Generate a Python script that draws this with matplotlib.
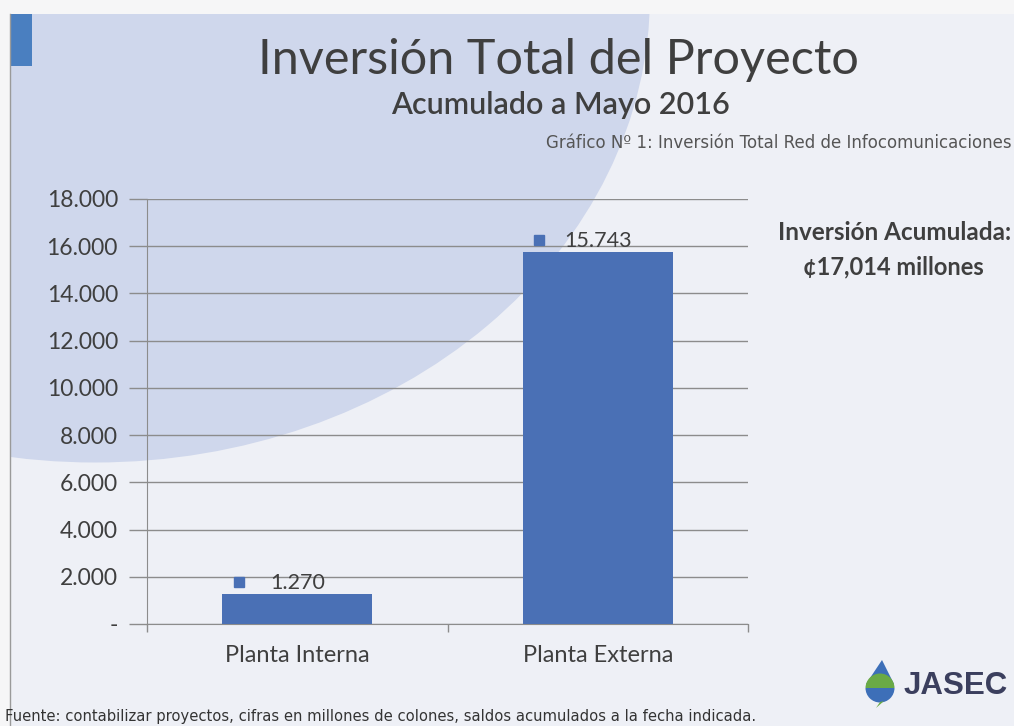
import numpy as np
import matplotlib.pyplot as plt
import matplotlib.transforms as mtransforms
from matplotlib.patches import Ellipse, Rectangle, Polygon, Wedge
from matplotlib.ticker import FixedLocator, FuncFormatter

# datos del grafico
categorias = ['Planta Interna', 'Planta Externa']
inversion = [1270, 15743]
y_ticks = [0, 2000, 4000, 6000, 8000, 10000, 12000, 14000, 16000, 18000]

titulo = 'Inversión Total del Proyecto'
subtitulo = 'Acumulado a Mayo 2016'
nota_grafico = 'Gráfico Nº 1: Inversión Total Red de Infocomunicaciones'
total_linea1 = 'Inversión Acumulada:'
total_linea2 = '¢17,014 millones'
fuente = 'Fuente: contabilizar proyectos, cifras en millones de colones, saldos acumulados a la fecha indicada.'

BLUE = '#4a70b5'
TXT = '#3f3f3f'
GRID = '#8c8c8c'

plt.rcParams['font.family'] = ['Lato', 'DejaVu Sans']

fig = plt.figure(figsize=(10.14, 7.26), dpi=100)
fig.patch.set_facecolor('#f6f6f7')

# fondo de la diapositiva (coordenadas en pixeles)
bg = fig.add_axes([0, 0, 1, 1], zorder=-1)
bg.set_xlim(0, 1014)
bg.set_ylim(726, 0)
bg.axis('off')
panel = Rectangle((10, 14), 1010, 720, facecolor='#eef0f6', edgecolor='none')
bg.add_patch(panel)
circ = Ellipse((95, -5), 1110, 935, facecolor='#cfd7ec', edgecolor='none')
bg.add_patch(circ)
circ.set_clip_path(panel)
bg.plot([10, 10], [14, 726], color='#9a9a9a', lw=1)
bg.add_patch(Rectangle((10, 14), 22, 52, facecolor='#4a7fc0', edgecolor='none'))

# logo
bg.add_patch(Polygon([[882, 660], [866, 684], [894, 684]], closed=True,
                     facecolor='#3d6fb8', edgecolor='none'))
bg.add_patch(Wedge((880, 688), 14.5, 0, 180, facecolor='#3d6fb8', edgecolor='none'))
bg.add_patch(Wedge((880, 688), 14.5, 180, 360, facecolor='#6aaa45', edgecolor='none'))
bg.add_patch(Polygon([[880, 702], [876, 708], [884, 701]], closed=True,
                     facecolor='#6aaa45', edgecolor='none'))
bg.text(904, 686, 'JASEC', fontsize=22.5, fontweight='bold', color='#3b3f5e',
        family=['Liberation Sans'], ha='left', va='center')

# textos
fig.text(0.551, 0.918, titulo, fontsize=35, color=TXT, ha='center', va='center')
fig.text(0.553, 0.855, subtitulo, fontsize=22, color=TXT, ha='center', va='center',
         fontweight='semibold')
fig.text(0.998, 0.803, nota_grafico, fontsize=12, color='#555555', ha='right',
         va='center', family=['DejaVu Sans'])
fig.text(0.882, 0.68, total_linea1, fontsize=17.5, fontweight='bold', color=TXT,
         ha='center', va='center')
fig.text(0.881, 0.633, total_linea2, fontsize=17, fontweight='bold', color=TXT,
         ha='center', va='center')
fig.text(0.005, 0.013, fuente, fontsize=10.6, color='#333333', ha='left', va='center',
         family=['DejaVu Sans'])

# grafico de barras
ax = fig.add_axes([0.145, 0.1405, 0.5927, 0.5854])
ax.set_facecolor('none')
x = np.arange(len(categorias))
ax.bar(x, inversion, width=0.5, color=BLUE, zorder=3)
ax.set_xlim(-0.5, 1.5)
ax.set_ylim(0, 18000)

ax.yaxis.set_major_locator(FixedLocator(y_ticks))
ax.yaxis.set_major_formatter(FuncFormatter(
    lambda v, p: '-' if v == 0 else f'{int(v):,}'.replace(',', '.')))
ax.grid(axis='y', color=GRID, lw=1, zorder=0)
ax.set_axisbelow(True)

ax.set_xticks([-0.5, 0.5, 1.5])
ax.set_xticklabels([])
ax.set_xticks(x, minor=True)
ax.set_xticklabels(categorias, minor=True)
ax.tick_params(axis='x', which='major', length=6, color=GRID, width=1)
ax.tick_params(axis='x', which='minor', length=0, pad=15, labelsize=17, labelcolor=TXT)
ax.tick_params(axis='y', length=13, color=GRID, width=1, pad=8, labelsize=16.5,
               labelcolor=TXT)

for s in ['top', 'right']:
    ax.spines[s].set_visible(False)
for s in ['left', 'bottom']:
    ax.spines[s].set_color(GRID)

# etiquetas de datos con el cuadrito de leyenda a la izquierda
shift = mtransforms.ScaledTranslation(-42 / 72, 9 / 72, fig.dpi_scale_trans)
for xi, v in zip(x, inversion):
    lbl = f'{v:,}'.replace(',', '.')
    ax.annotate(lbl, (xi, v), xytext=(0, 8), textcoords='offset points',
                ha='center', va='center', fontsize=15.5, color=TXT, zorder=4)
    ax.plot([xi], [v], marker='s', ms=7.5, color=BLUE, zorder=4, linestyle='none',
            transform=ax.transData + shift)

fig.savefig('out.png', dpi=100, facecolor=fig.get_facecolor())
